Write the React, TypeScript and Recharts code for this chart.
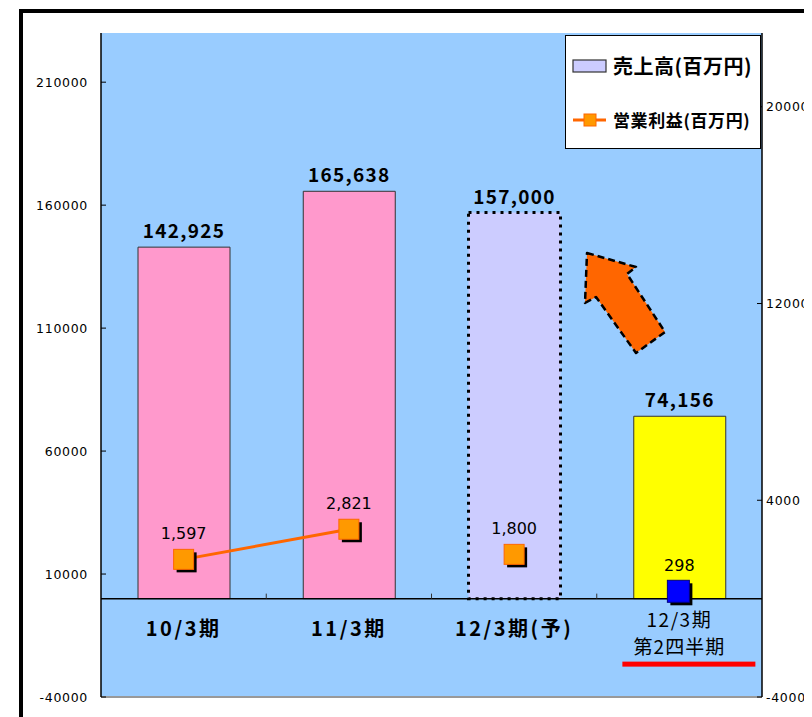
import React from 'react';
import {
  ComposedChart, Bar, Line, XAxis, YAxis, CartesianGrid, ReferenceLine,
  LabelList, Cell, Legend, Customized,
} from 'recharts';

// ---- data ----
const categories = ['10/3期', '11/3期', '12/3期(予)', '12/3期'];
const categorySubLabels = ['', '', '', '第2四半期'];
const sales = [142925, 165638, 157000, 74156];
const profitLine = [1597, 2821, null, null];
const profitPoints = [null, null, 1800, 298];
const leftTicks = [-40000, 10000, 60000, 110000, 160000, 210000];
const rightTicks = [-4000, 4000, 12000, 20000];
const leftDomain = [-40000, 230000];
const rightDomain = [-4000, 23000];
const legendSales = '売上高(百万円)';
const legendProfit = '営業利益(百万円)';

const data = categories.map((name, i) => ({
  name,
  sales: sales[i],
  profitLine: profitLine[i],
  profitPoints: profitPoints[i],
}));

// ---- layout ----
const W = 804;
const H = 709;
const M_TOP = 25;
const LEFT_W = 93;
const RIGHT_W = 50;
const X_H = 20;
const PLOT_H = H - M_TOP - X_H;
const PLOT_L = LEFT_W;
const PLOT_R = W - RIGHT_W;
const ZERO_Y = M_TOP + (PLOT_H * leftDomain[1]) / (leftDomain[1] - leftDomain[0]);
const BAND = (PLOT_R - PLOT_L) / categories.length;

const tickFont = { fontFamily: '"DejaVu Sans", sans-serif', fontSize: 12.5, letterSpacing: 0.7 };
const fmt = (v: number) => v.toLocaleString('en-US');

const LeftTick = (props: any) => {
  const { y, payload } = props;
  return (
    <g>
      <line x1={PLOT_L} x2={PLOT_L + 5} y1={y} y2={y} stroke="#000" strokeWidth={1} />
      <text x={PLOT_L - 13} y={y} dy="0.36em" textAnchor="end" fill="#000" style={tickFont}>
        {payload.value}
      </text>
    </g>
  );
};

const RightTick = (props: any) => {
  const { y, payload } = props;
  return (
    <g>
      <line x1={PLOT_R - 5} x2={PLOT_R} y1={y} y2={y} stroke="#000" strokeWidth={1} />
      <text x={PLOT_R + 4} y={y} dy="0.36em" textAnchor="start" fill="#000" style={tickFont}>
        {payload.value}
      </text>
    </g>
  );
};

const XTick = (props: any) => {
  const { x, payload } = props;
  const i = categories.indexOf(payload.value);
  const sub = categorySubLabels[i];
  return (
    <g>
      {i < categories.length - 1 && (
        <line x1={x + BAND / 2} x2={x + BAND / 2} y1={ZERO_Y - 5} y2={ZERO_Y} stroke="#333" strokeWidth={1} />
      )}
      {sub ? (
        <g>
          <text x={x} y={ZERO_Y + 22} dy="0.36em" textAnchor="middle" fill="#000"
            style={{ fontFamily: '"Noto Sans CJK JP", sans-serif', fontSize: 19, letterSpacing: 1.5 }}>
            {payload.value}
          </text>
          <text x={x} y={ZERO_Y + 49} dy="0.36em" textAnchor="middle" fill="#000"
            style={{ fontFamily: '"Noto Sans CJK JP", sans-serif', fontSize: 19, letterSpacing: 1 }}>
            {sub}
          </text>
          <rect x={x - 57} y={ZERO_Y + 63} width={133} height={5} fill="#FF0000" />
        </g>
      ) : (
        <text x={x} y={ZERO_Y + 30} dy="0.36em" textAnchor="middle" fill="#000"
          style={{ fontFamily: '"Noto Sans CJK JP", sans-serif', fontSize: 20, fontWeight: 700, letterSpacing: 2.5 }}>
          {payload.value}
        </text>
      )}
    </g>
  );
};

const SquareDot = (props: any) => {
  const { cx, cy, index } = props;
  if (cx == null || cy == null || Number.isNaN(cx) || Number.isNaN(cy)) return <g key={`d${index}`} />;
  const blue = index === categories.length - 1;
  const s = blue ? 22 : 20;
  const ox = blue ? -1 : 0;
  return (
    <g key={`d${index}`}>
      <rect x={cx + ox - s / 2 + 3} y={cy - s / 2 + 3} width={s} height={s} fill="#000" />
      <rect x={cx + ox - s / 2} y={cy - s / 2} width={s} height={s}
        fill={blue ? '#0000FF' : '#FF9900'} stroke={blue ? '#000080' : '#FF6600'} strokeWidth={1} />
    </g>
  );
};

const PointLabel = (props: any) => {
  const { x, y, value } = props;
  if (value == null || x == null || y == null) return null;
  return (
    <text x={x} y={y - 20} textAnchor="middle" fill="#000"
      style={{ fontFamily: '"DejaVu Sans", sans-serif', fontSize: 16 }}>
      {fmt(value)}
    </text>
  );
};

const BarLabel = (props: any) => {
  const { x, y, width, value } = props;
  return (
    <text x={x + width / 2} y={y - 9} textAnchor="middle" fill="#000"
      style={{ fontFamily: '"Noto Sans CJK JP", sans-serif', fontSize: 19, fontWeight: 700, letterSpacing: 1.3 }}>
      {fmt(value)}
    </text>
  );
};

const barFills = ['#FF99CC', '#FF99CC', '#CCCCFF', '#FFFF00'];

const LegendBox = () => (
  <div style={{
    position: 'relative', width: 196, height: 114, boxSizing: 'border-box',
    border: '1px solid #000', background: '#fff',
  }}>
    <svg width={40} height={20} style={{ position: 'absolute', left: 6, top: 20 }}>
      <rect x={1} y={4} width={33} height={12} fill="#CCCCFF" stroke="#333" strokeWidth={1.2} />
    </svg>
    <span style={{
      position: 'absolute', left: 47, top: 17, fontFamily: '"Noto Sans CJK JP", sans-serif',
      fontSize: 20, fontWeight: 700, lineHeight: '26px', whiteSpace: 'nowrap', color: '#000',
      letterSpacing: 0.5,
    }}>{legendSales}</span>
    <svg width={40} height={20} style={{ position: 'absolute', left: 6, top: 74 }}>
      <line x1={1} x2={34} y1={10} y2={10} stroke="#FF6600" strokeWidth={3} />
      <rect x={12} y={4} width={12} height={12} fill="#FF9900" stroke="#FF6600" strokeWidth={1} />
    </svg>
    <span style={{
      position: 'absolute', left: 47, top: 72, fontFamily: '"Noto Sans CJK JP", sans-serif',
      fontSize: 17, fontWeight: 700, lineHeight: '24px', whiteSpace: 'nowrap', color: '#000',
      letterSpacing: 0.6,
    }}>{legendProfit}</span>
  </div>
);

const Decorations = () => (
  <g>
    <rect x={13} y={3} width={1200} height={1200} fill="none" stroke="#000" strokeWidth={4} />
    <line x1={PLOT_L} x2={PLOT_R} y1={M_TOP + PLOT_H} y2={M_TOP + PLOT_H} stroke="#999" strokeWidth={2} />
    <polygon
      points="579,245 628,259 619,266 657,324 628,345 588,289 577,295"
      fill="#FF6600" stroke="#000" strokeWidth={2.5} strokeDasharray="7 4" strokeLinejoin="round"
    />
  </g>
);

export default function App() {
  return (
    <ComposedChart width={W} height={H} data={data}
      margin={{ top: M_TOP, right: 0, bottom: 0, left: 0 }} barCategoryGap={0}>
      <CartesianGrid fill="#99CCFF" horizontal={false} vertical={false} stroke="none" />
      <Customized component={Decorations} />
      <XAxis dataKey="name" xAxisId="x" height={X_H} axisLine={false} tickLine={false}
        tick={XTick} interval={0} />
      <YAxis yAxisId="left" width={LEFT_W} domain={leftDomain} ticks={leftTicks}
        allowDataOverflow type="number" axisLine={{ stroke: '#000', strokeWidth: 1.5 }}
        tickLine={false} tick={LeftTick} interval={0} />
      <YAxis yAxisId="right" orientation="right" width={RIGHT_W} domain={rightDomain}
        ticks={rightTicks} allowDataOverflow type="number"
        axisLine={{ stroke: '#000', strokeWidth: 1.5 }} tickLine={false} tick={RightTick} interval={0} />
      <ReferenceLine yAxisId="left" xAxisId="x" y={0} stroke="#000" strokeWidth={1.5} />
      <Bar dataKey="sales" xAxisId="x" yAxisId="left" barSize={92} isAnimationActive={false}>
        {data.map((d, i) => (
          <Cell key={d.name} fill={barFills[i]}
            stroke={i === 2 ? '#000' : '#333'}
            strokeWidth={i === 2 ? 3 : 1}
            strokeDasharray={i === 2 ? '3 5' : undefined} />
        ))}
        <LabelList dataKey="sales" content={BarLabel} />
      </Bar>
      <Line dataKey="profitLine" xAxisId="x" yAxisId="right" stroke="#FF6600" strokeWidth={3}
        dot={SquareDot} activeDot={false} connectNulls={false} isAnimationActive={false}>
        <LabelList dataKey="profitLine" content={PointLabel} />
      </Line>
      <Line dataKey="profitPoints" xAxisId="x" yAxisId="right" stroke="none" strokeWidth={0}
        dot={SquareDot} activeDot={false} isAnimationActive={false}>
        <LabelList dataKey="profitPoints" content={PointLabel} />
      </Line>
      <Legend layout="vertical" align="center" verticalAlign="middle"
        wrapperStyle={{ position: 'absolute', left: 557, top: 27, width: 196, height: 114 }}
        content={LegendBox} />
    </ComposedChart>
  );
}
